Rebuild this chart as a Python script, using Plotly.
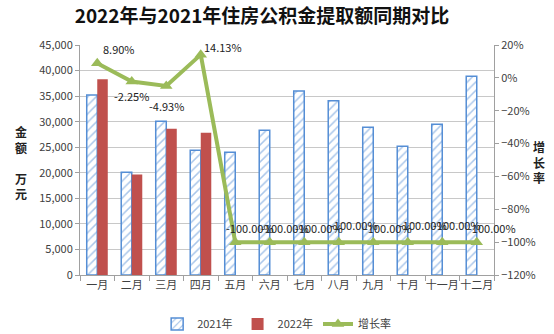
import plotly.graph_objects as go

months = ["一月", "二月", "三月", "四月", "五月", "六月", "七月", "八月", "九月", "十月", "十一月", "十二月"]
y2021 = [35200, 20100, 30100, 24400, 24000, 28300, 36000, 34100, 28900, 25200, 29500, 38900]
y2022 = [38300, 19650, 28600, 27850, None, None, None, None, None, None, None, None]
growth = [8.90, -2.25, -4.93, 14.13, -100, -100, -100, -100, -100, -100, -100, -100]
growth_labels = ["8.90%", "-2.25%", "-4.93%", "14.13%"] + ["-100.00%"] * 8

FONT = "Noto Sans CJK SC"

fig = go.Figure()
fig.add_trace(go.Bar(
    x=months, y=y2021, name="2021年",
    marker=dict(color="white", line=dict(color="#558ED5", width=1.5),
                pattern=dict(shape="/", fgcolor="#558ED5", bgcolor="white", size=6, solidity=0.25)),
))
fig.add_trace(go.Bar(
    x=months, y=y2022, name="2022年",
    marker=dict(color="#C0504D", line=dict(width=0)),
))
fig.add_trace(go.Scatter(
    x=months, y=growth, name="增长率", yaxis="y2",
    mode="lines+markers",
    line=dict(color="#9BBB59", width=4),
    marker=dict(symbol="triangle-up", size=11, color="#9BBB59"),
    cliponaxis=False,
))

# label offsets (pixels) per point, mimicking the reference placement
xshift = [22, 0, 0, 22, 15, 15, 15, 15, 15, 15, 15, 15]
yshift = [14, -14, -20, 8, 14, 14, 14, 17, 14, 17, 17, 14]
annotations = []
for m, g, t, dx, dy in zip(months, growth, growth_labels, xshift, yshift):
    annotations.append(dict(x=m, y=g, xref="x", yref="y2", text=t, showarrow=False,
                            xshift=dx, yshift=dy, font=dict(size=11, color="#222222", family=FONT)))

annotations += [
    dict(text="<b>金<br>额<br><br>万<br>元</b>", xref="paper", yref="paper", x=-0.1425, y=0.49,
         xanchor="center", yanchor="middle",
         showarrow=False, font=dict(size=12, color="#222222"), align="center"),
    dict(text="<b>增<br>长<br>率</b>", xref="paper", yref="paper", x=1.108, y=0.49,
         xanchor="center", yanchor="middle",
         showarrow=False, font=dict(size=12, color="#222222"), align="center"),
]

fig.update_layout(
    width=554, height=334,
    margin=dict(l=80, r=60, t=45, b=59, autoexpand=False),
    paper_bgcolor="white", plot_bgcolor="white",
    font=dict(family=FONT, size=11, color="#404040"),
    title=dict(text="<b>2022年与2021年住房公积金提取额同期对比</b>", x=0.473, xanchor="center",
               y=0.952, yanchor="middle", font=dict(size=19, color="#111111", family=FONT)),
    barmode="group", bargap=0.39, bargroupgap=0,
    showlegend=True,
    legend=dict(orientation="h", x=0.475, xanchor="center", y=-0.15, yanchor="top",
                font=dict(size=11, color="#404040"), itemwidth=30, tracegroupgap=0),
    xaxis=dict(range=[-0.5, 11.5], autorange=False,
               showline=True, linecolor="#A0A0A0", ticks="outside", tickson="boundaries", automargin=False,
               ticklen=5, tickcolor="#A0A0A0", tickangle=0, tickfont=dict(size=11, color="#404040")),
    yaxis=dict(range=[0, 45000], dtick=5000, tickformat=",d", showgrid=True, gridcolor="#C8C8C8",
               showline=True, linecolor="#A0A0A0", ticks="outside", ticklen=4, tickcolor="#A0A0A0",
               zeroline=False, automargin=False),
    yaxis2=dict(range=[-120, 20], dtick=20, overlaying="y", side="right", ticksuffix="%",
                showgrid=False, showline=True, linecolor="#A0A0A0", ticks="outside", ticklen=4,
                tickcolor="#A0A0A0", zeroline=False, automargin=False),
    annotations=annotations,
)

fig.write_html("out.html")
